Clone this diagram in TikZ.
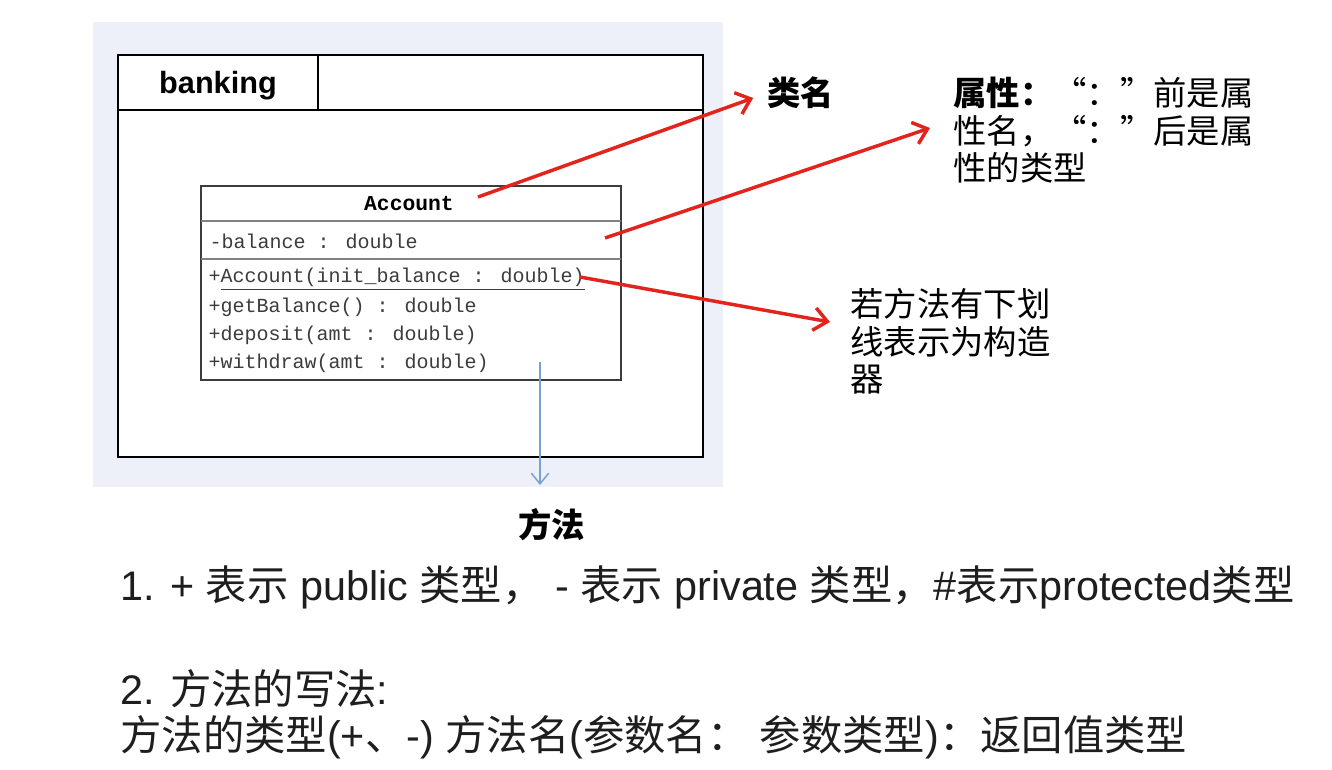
\documentclass[tikz,border=0pt]{standalone}
\usepackage{fontspec}
\setmainfont{Liberation Sans}
\newfontfamily\cjk{Noto Sans CJK SC}
\newfontfamily\umlmono{Liberation Mono}
\usetikzlibrary{arrows.meta}

\definecolor{panelbg}{RGB}{237,240,248}
\definecolor{notered}{RGB}{226,36,28}
\definecolor{noteblue}{RGB}{120,160,210}
\definecolor{umlgray}{RGB}{60,60,60}

\newcommand{\zh}[1]{{\cjk #1}}

\tikzset{every picture/.style={line width=0.75pt}}
\tikzset{
  redarrow/.style={draw=notered, line width=2.6pt, -{Straight Barb[length=10pt,width=17pt,line width=2.6pt]}},
  bluearrow/.style={draw=noteblue, line width=1.1pt, -{Straight Barb[length=8pt,width=13pt,line width=1.1pt]}},
  umltext/.style={inner sep=0.75pt, text=umlgray, font=\umlmono\fontsize{15}{18}\selectfont},
  notetext/.style={inner sep=0pt, align=left, font=\cjk\fontsize{25}{28}\selectfont},
  bottomtext/.style={inner sep=0pt, anchor=west, text={rgb,255:red,30;green,30;blue,30}, font=\fontsize{31}{36}\selectfont}
}

\begin{document}
\begin{tikzpicture}[x=0.75pt,y=0.75pt,yscale=-1,xscale=1]
\useasboundingbox (0,0) rectangle (1332,770);

%Shape: Rectangle (panel)
\fill [panelbg] (93,22) rectangle (723,487);
%Shape: Rectangle (package)
\draw [fill=white, line width=1.5pt] (118,55) rectangle (703,457);
\draw [line width=1.5pt] (118,110) -- (703,110);
\draw [line width=1.5pt] (318,55) -- (318,110);
%Shape: Rectangle (class)
\draw [draw=umlgray, line width=1.5pt] (201,186) rectangle (621,380);
\draw [draw=gray, line width=2pt] (201,221) -- (621,221);
\draw [draw=gray, line width=2pt] (201,259) -- (621,259);

% Text Node
\node [inner sep=0.75pt] (pkgname) at (218,86) {\fontsize{23}{27}\selectfont\bfseries banking};
% Text Node
\node [umltext, text=black] (clsname) at (409,204) {\bfseries\fontsize{16}{18}\selectfont Account};
% Text Node
\node [umltext, anchor=west] (attrbal) at (208,241) {-balance : double};
% Text Node
\node [umltext, anchor=west] (opctor) at (207,279) {+\underline{Account(init\_balance : double)}};
% Text Node
\node [umltext, anchor=west] (opget) at (207,307) {+getBalance() : double};
% Text Node
\node [umltext, anchor=west] (opdep) at (207,335) {+deposit(amt : double)};
% Text Node
\node [umltext, anchor=west] (opwith) at (207,363) {+withdraw(amt : double)};

% Text Node
\node [notetext, anchor=west] (lblclass) at (767,93) {\bfseries 类名};
% Text Node
\node [notetext, anchor=north west] (lblattr) at (953,77) {{\bfseries 属性：}“：”前是属\\性名，“：”后是属\\性的类型};
% Text Node
\node [notetext, anchor=north west] (lblctor) at (850,288) {若方法有下划\\线表示为构造\\器};
% Text Node
\node [notetext, anchor=west] (lblmethod) at (518,525) {\bfseries 方法};

% Text Node
\node [bottomtext] (rule1) at (120,587) {1. + \zh{表示} public \zh{类型，}\ - \zh{表示} private \zh{类型，}\#\zh{表示}protected\zh{类型}};
% Text Node
\node [bottomtext] (rule2) at (120,689) {2. \zh{方法的写法}:};
% Text Node
\node [bottomtext] (rule3) at (120,737) {\zh{方法的类型}(+\zh{、}-) \zh{方法名}(\zh{参数名：} \zh{参数类型})\zh{：返回值类型}};

%Straight Lines (arrows)
\coordinate (clstail) at (478,197);
\coordinate (attrtail) at (605,238);
\coordinate (ctortail) at (580,277);
\coordinate (ctortip) at (830,322);
\coordinate (optail) at (540,362);
\coordinate (optip) at (540,485);
\draw [redarrow, shorten >=11pt] (clstail) -- (lblclass.west);
\draw [redarrow] (attrtail) -- (930,128) coordinate (attrtip);
\draw [redarrow] (ctortail) -- (ctortip);
\draw [bluearrow] (optail) -- (optip);

\end{tikzpicture}
\end{document}
